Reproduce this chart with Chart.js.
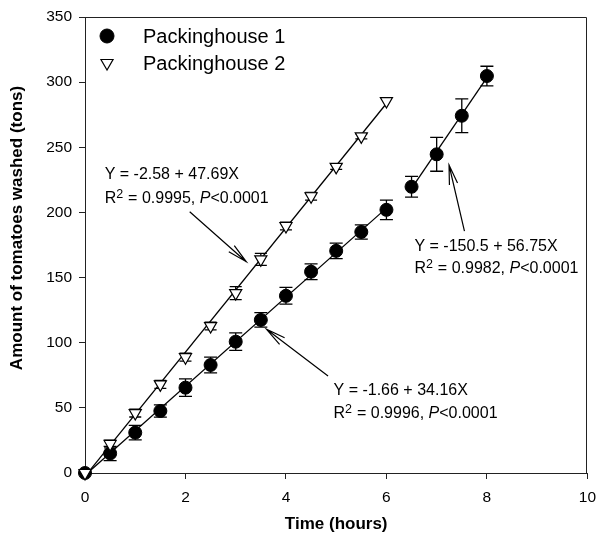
<!DOCTYPE html>
<html><head><meta charset="utf-8">
<script src="https://cdn.jsdelivr.net/npm/chart.js@4.4.0/dist/chart.umd.min.js"></script>
<style>html,body{margin:0;padding:0;background:#fff}</style>
</head><body>
<canvas id="c" width="605" height="540" style="display:block;width:605px;height:540px"></canvas>
<script>
// ---- data ----
const hours1 = [0, 0.5, 1, 1.5, 2, 2.5, 3, 3.5, 4, 4.5, 5, 5.5, 6, 6.5, 7, 7.5, 8];
const tons1  = [0, 15, 31, 47.6, 65.5, 82.9, 100.8, 117.5, 136, 154.5, 170.5, 185, 202, 219.7, 244.6, 274.2, 304.7];
const err1   = [0, 5.5, 5.5, 4.7, 6.7, 6, 6.7, 5.6, 6.4, 6, 6, 5.5, 7.5, 8, 13, 13, 7.5];
const hours2 = [0, 0.5, 1, 1.5, 2, 2.5, 3, 3.5, 4, 4.5, 5, 5.5, 6];
const tons2  = [0, 22.3, 46, 68, 88.9, 112.8, 138.1, 164, 189.6, 212.4, 235, 258.4, 285.5];
const err2   = [0, 3, 3, 3, 3, 3, 5, 4.6, 3, 3, 2, 2, 0];
// regression lines (end points from the printed equations)
const fit1aX = [0, 6];   const fit1aY = [-1.66, 203.3];
const fit1bX = [6.5, 8]; const fit1bY = [218.4, 303.5];
const fit2X  = [0, 6];   const fit2Y  = [-2.58, 283.6];
const xTicks = [0, 2, 4, 6, 8, 10];
const yTicks = [0, 50, 100, 150, 200, 250, 300, 350];
const seriesNames = ['Packinghouse 1', 'Packinghouse 2'];
const eqTexts = [
  {line1: 'Y = -2.58 + 47.69X', r2: '0.9995'},
  {line1: 'Y = -150.5 + 56.75X', r2: '0.9982'},
  {line1: 'Y = -1.66 + 34.16X', r2: '0.9996'}
];

const pts = (xs, ys) => xs.map((x, i) => ({x: x, y: ys[i]}));
const FONT = '"Liberation Sans", Arial, Helvetica, sans-serif';

const errorBarPlugin = {
  id: 'errorBars',
  beforeDatasetsDraw(chart) {
    const ctx = chart.ctx, xs = chart.scales.x, ys = chart.scales.y;
    chart.data.datasets.forEach((ds) => {
      if (!ds.errorBars) return;
      ctx.save();
      ctx.strokeStyle = '#000';
      ctx.lineWidth = 1.3;
      ds.data.forEach((p, i) => {
        const e = ds.errorBars[i];
        if (!e) return;
        const px = xs.getPixelForValue(p.x);
        const y1 = ys.getPixelForValue(p.y + e);
        const y2 = ys.getPixelForValue(p.y - e);
        const hw = ds.capHalfWidth;
        ctx.beginPath();
        ctx.moveTo(px, y1); ctx.lineTo(px, y2);
        ctx.moveTo(px - hw, y1); ctx.lineTo(px + hw, y1);
        ctx.moveTo(px - hw, y2); ctx.lineTo(px + hw, y2);
        ctx.stroke();
      });
      ctx.restore();
    });
  }
};

const framePlugin = {
  id: 'frame',
  afterLayout(chart, args, opts) {
    // shift the y-axis title along the axis, as in the reference
    const s = chart.scales.y;
    if (s && !s._titleShifted) {
      const orig = s.drawTitle;
      s.drawTitle = function () {
        this.ctx.save();
        this.ctx.translate(0, opts.yTitleShift);
        orig.call(this);
        this.ctx.restore();
      };
      s._titleShifted = true;
    }
  },
  beforeDatasetsDraw(chart) {
    const {ctx, chartArea: a} = chart;
    ctx.save();
    ctx.strokeStyle = '#222';
    ctx.lineWidth = 1;
    const t = Math.round(a.top) + 0.5, r = Math.round(a.right) - 0.5;
    ctx.beginPath();
    ctx.moveTo(a.left, t); ctx.lineTo(r, t); ctx.lineTo(r, a.bottom);
    ctx.stroke();
    ctx.restore();
  }
};

const legendPlugin = {
  id: 'manualLegend',
  afterDraw(chart, args, opts) {
    const {ctx, chartArea: a} = chart;
    ctx.save();
    ctx.font = '20px ' + FONT;
    ctx.textBaseline = 'middle';
    ctx.textAlign = 'left';
    opts.items.forEach((it, k) => {
      const ds = chart.data.datasets[it.datasetIndex];
      const cx = a.left + opts.markerX, cy = a.top + opts.firstY + k * opts.rowGap;
      ctx.fillStyle = ds.backgroundColor;
      ctx.strokeStyle = ds.borderColor;
      ctx.lineWidth = ds.borderWidth;
      Chart.helpers.drawPoint(ctx, {pointStyle: ds.pointStyle, rotation: ds.pointRotation || 0, radius: opts.radius, borderWidth: ds.borderWidth}, cx, cy);
      ctx.fillStyle = '#000';
      ctx.fillText(ds.label, a.left + opts.textX, cy + 1);
    });
    ctx.restore();
  }
};

function drawArrow(ctx, x1, y1, x2, y2) {
  const ang = Math.atan2(y2 - y1, x2 - x1);
  const L = 20, h = 12 * Math.PI / 180;
  ctx.beginPath();
  ctx.moveTo(x1, y1); ctx.lineTo(x2, y2);
  ctx.moveTo(x2 - L * Math.cos(ang - h), y2 - L * Math.sin(ang - h));
  ctx.lineTo(x2, y2);
  ctx.lineTo(x2 - L * Math.cos(ang + h), y2 - L * Math.sin(ang + h));
  ctx.stroke();
}

const annotationPlugin = {
  id: 'equations',
  afterDatasetsDraw(chart, args, opts) {
    const ctx = chart.ctx, xs = chart.scales.x, ys = chart.scales.y;
    ctx.save();
    ctx.fillStyle = '#000';
    ctx.strokeStyle = '#000';
    ctx.lineWidth = 1.2;
    ctx.textBaseline = 'alphabetic';
    ctx.textAlign = 'left';
    opts.items.forEach((it, k) => {
      const t = eqTexts[k];
      const x = xs.getPixelForValue(it.textAt[0]);
      const b1 = ys.getPixelForValue(it.textAt[1]);
      const b2 = ys.getPixelForValue(it.textAt[2]);
      ctx.font = '16px ' + FONT;
      ctx.fillText(t.line1, x, b1);
      let cx = x;
      ctx.fillText('R', cx, b2); cx += ctx.measureText('R').width;
      ctx.font = '12.5px ' + FONT;
      ctx.fillText('2', cx, b2 - 5.5); cx += ctx.measureText('2').width + 0.5;
      ctx.font = '16px ' + FONT;
      const mid = ' = ' + t.r2 + ', ';
      ctx.fillText(mid, cx, b2); cx += ctx.measureText(mid).width;
      ctx.font = 'italic 16px ' + FONT;
      ctx.fillText('P', cx, b2); cx += ctx.measureText('P').width;
      ctx.font = '16px ' + FONT;
      ctx.fillText('<0.0001', cx, b2);
      drawArrow(ctx,
        xs.getPixelForValue(it.from[0]), ys.getPixelForValue(it.from[1]),
        xs.getPixelForValue(it.to[0]), ys.getPixelForValue(it.to[1]));
    });
    ctx.restore();
  }
};

const lineDs = (label, xs, ys) => ({
  label: label, data: pts(xs, ys), showLine: true, pointRadius: 0, pointHoverRadius: 0,
  borderColor: '#000', borderWidth: 1.3, backgroundColor: '#000', fill: false, order: 2, clip: false
});

new Chart(document.getElementById('c'), {
  type: 'scatter',
  data: {
    datasets: [
      { label: seriesNames[0], data: pts(hours1, tons1), errorBars: err1, capHalfWidth: 6.5,
        pointStyle: 'circle', pointRadius: 6.5, pointHoverRadius: 6.5,
        backgroundColor: '#000', borderColor: '#000', borderWidth: 1, order: 1, clip: false },
      { label: seriesNames[1], data: pts(hours2, tons2), errorBars: err2, capHalfWidth: 6,
        pointStyle: 'triangle', pointRotation: 180, pointRadius: 7, pointHoverRadius: 7,
        backgroundColor: '#fff', borderColor: '#000', borderWidth: 1.2, order: 0, clip: false },
      lineDs('fit1a', fit1aX, fit1aY),
      lineDs('fit1b', fit1bX, fit1bY),
      lineDs('fit2', fit2X, fit2Y)
    ]
  },
  options: {
    responsive: false,
    animation: false,
    devicePixelRatio: 1,
    layout: { padding: { left: 0, top: 17, right: 8, bottom: 0 } },
    plugins: {
      legend: { display: false },
      tooltip: { enabled: false },
      frame: { yTitleShift: -17 },
      manualLegend: { items: [{datasetIndex: 0}, {datasetIndex: 1}], markerX: 22, textX: 58, firstY: 19, rowGap: 27, radius: 7 },
      equations: { items: [
        { textAt: [0.391, 225.4, 207.0], from: [2.084, 200.5], to: [3.209, 162.2] },
        { textAt: [6.557, 170.6, 153.3], from: [7.553, 185.7], to: [7.246, 236.4] },
        { textAt: [4.947, 59.9, 42.0],   from: [4.838, 74.4], to: [3.613, 110.3] }
      ] }
    },
    scales: {
      x: {
        type: 'linear', min: 0, max: 10,
        afterBuildTicks: (s) => { s.ticks = xTicks.map(v => ({value: v})); },
        afterFit: (s) => { s.height = 67; },
        ticks: { color: '#000', padding: 9, font: { size: 15.5, family: FONT } },
        grid: { drawOnChartArea: false, drawTicks: true, tickLength: 6, color: '#222', tickWidth: 1 },
        border: { display: true, color: '#222', width: 1 },
        title: { display: true, text: 'Time (hours)', color: '#000',
          font: { size: 17, weight: 'bold', family: FONT }, padding: { top: 0, bottom: 5.8 } }
      },
      y: {
        type: 'linear', min: 0, max: 350,
        afterBuildTicks: (s) => { s.ticks = yTicks.map(v => ({value: v})); },
        afterFit: (s) => { s.width = 85; },
        ticks: { color: '#000', padding: 7, font: { size: 15.5, family: FONT } },
        grid: { drawOnChartArea: false, drawTicks: true, tickLength: 6, color: '#222', tickWidth: 1 },
        border: { display: true, color: '#222', width: 1 },
        title: { display: true, text: 'Amount of tomatoes washed (tons)', color: '#000',
          font: { size: 17, weight: 'bold', family: FONT }, padding: { top: 7.5, bottom: 0 } }
      }
    }
  },
  plugins: [framePlugin, errorBarPlugin, annotationPlugin, legendPlugin]
});
</script>
</body></html>
